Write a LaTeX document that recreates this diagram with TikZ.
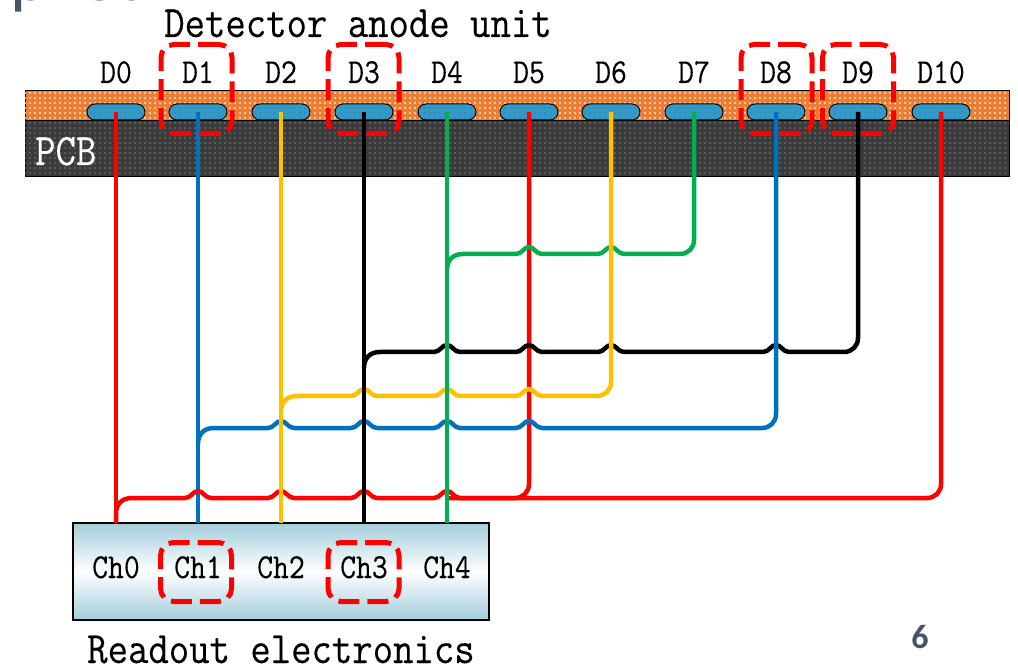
\documentclass[tikz,border=0pt]{standalone}
\usepackage{fontspec}
\newfontfamily\slidefont{Carlito}
\newfontfamily\boardfont[FakeBold=0.25,FakeStretch=0.88]{Latin Modern Mono}
\usetikzlibrary{
	patterns.meta,
	positioning
}
\definecolor{pcbOrange}{HTML}{ED7D31}
\definecolor{pcbDark}{HTML}{3B3B3B}
\definecolor{padBlue}{HTML}{2E9CCB}
\definecolor{wireBlue}{HTML}{0070C0}
\definecolor{wireYellow}{HTML}{FFC000}
\definecolor{wireGreen}{HTML}{00B050}
\definecolor{boxBlue}{HTML}{A3CEDC}
\definecolor{slideGray}{HTML}{44546A}
% hop of a horizontal wire, running leftwards, over the vertical at x=#1
\newcommand\wireHop[2]{-- (#1+13,#2) .. controls (#1+7,#2) and (#1+5,#2-7) .. (#1,#2-7) .. controls (#1-5,#2-7) and (#1-7,#2) .. (#1-13,#2)}
\tikzset{
	Band/.style={rectangle,draw=black,line width=0.8pt,minimum width=984pt,inner sep=0pt,outer sep=0pt},
	Pad/.style={rectangle,rounded corners=8pt,draw=black,line width=1pt,fill=padBlue,minimum width=58pt,minimum height=16pt,inner sep=0pt,outer sep=0pt,
		postaction={pattern={Dots[distance=5pt,radius=0.7pt]},pattern color=red!65!padBlue}},
	PadLabel/.style={font=\boardfont\fontsize{35}{36}\selectfont,inner sep=0pt,anchor=base},
	BigLabel/.style={font=\boardfont\fontsize{45}{46}\selectfont,inner sep=0pt,anchor=base},
	Mark/.style={rectangle,draw=red,line width=5pt,rounded corners=13pt,dash pattern=on 21pt off 8pt,inner sep=0pt},
	Wire/.style={line width=4.5pt,line join=round}
}
\begin{document}
\begin{tikzpicture}[x=1pt,y=-1pt]
	\useasboundingbox (0,0) rectangle (1018,668);
	\clip (0,0) rectangle (1018,668);
	% cut-off slide title and page number
	\node[anchor=base west,inner sep=0pt,text=slideGray,font=\slidefont\fontsize{72}{72}\selectfont] (title) at (10,1) {plied};
	\node[text=slideGray,inner sep=0pt,font=\slidefont\bfseries\fontsize{34}{34}\selectfont] (pagenum) at (920,637) {6};
	% detector board
	\node[Band,fill=pcbOrange,minimum height=30pt,postaction={pattern={Dots[distance=5pt,radius=1.2pt]},pattern color=white!80!pcbOrange}] (anode) at (517,105) {};
	\node[Band,fill=pcbDark,minimum height=56pt,postaction={pattern={Dots[distance=5pt,radius=1.2pt]},pattern color=gray!80!black}] (pcb) at (517,148) {};
	\node[BigLabel,text=white,anchor=base west] at (35,165) (pcblabel) {PCB};
	\node[BigLabel] (detector) at (358,37) {Detector anode unit};
	% anode pads and their labels
	\foreach \n/\x in {0/116,1/198,2/281,3/364,4/447,5/529,6/611,7/694,8/776,9/858,10/941} {
		\node[Pad] (pad\n) at (\x,112) {};
		\node[PadLabel] (label\n) at (\x,83) {D\n};
	}
	% readout box
	\node[rectangle,draw=black,line width=2.5pt,minimum width=416pt,minimum height=97pt,inner sep=0pt,outer sep=0pt,
		top color=boxBlue,bottom color=boxBlue,middle color=white] (readout) at (281,571.5) {};
	\foreach \n/\x in {0/116,1/198,2/281,3/364,4/447} {
		\node[PadLabel] (ch\n) at (\x,578) {Ch\n};
	}
	\node[BigLabel] (electronics) at (281,663) {Readout electronics};
	% wires that run under the others
	\draw[Wire,red] (pad0.center) -- (ch0 |- readout.north);
	\draw[Wire,wireBlue] (pad1.center) -- (ch1 |- readout.north);
	\draw[Wire,red] (pad5.center) -- (529,484) .. controls (529,492) and (523,498) .. (515,498) -- (447,498);
	\draw[Wire,red] (pad10.center) -- (941,484) .. controls (941,492) and (935,498) .. (927,498)
		\wireHop{447}{498} \wireHop{364}{498} \wireHop{281}{498} \wireHop{198}{498}
		-- (132,498) .. controls (122,498) and (116,504) .. (116,514) -- (ch0 |- readout.north);
	\draw[Wire,wireGreen] (pad7.center) -- (694,240) .. controls (694,248) and (688,254) .. (680,254)
		\wireHop{611}{254} \wireHop{529}{254}
		-- (463,254) .. controls (453,254) and (447,260) .. (447,270);
	\draw[Wire,black] (pad9.center) -- (858,338) .. controls (858,346) and (852,352) .. (844,352)
		\wireHop{776}{352} \wireHop{611}{352} \wireHop{529}{352} \wireHop{447}{352}
		-- (380,352) .. controls (370,352) and (364,358) .. (364,368);
	\draw[Wire,wireBlue] (pad8.center) -- (776,414) .. controls (776,422) and (770,428) .. (762,428)
		\wireHop{529}{428} \wireHop{447}{428} \wireHop{364}{428} \wireHop{281}{428}
		-- (214,428) .. controls (204,428) and (198,434) .. (198,444);
	\draw[Wire,wireYellow] (pad6.center) -- (611,382) .. controls (611,390) and (605,396) .. (597,396)
		\wireHop{529}{396} \wireHop{447}{396} \wireHop{364}{396}
		-- (297,396) .. controls (287,396) and (281,402) .. (281,412);
	% wires on top
	\draw[Wire,wireYellow] (pad2.center) -- (ch2 |- readout.north);
	\draw[Wire,black] (pad3.center) -- (ch3 |- readout.north);
	\draw[Wire,wireGreen] (pad4.center) -- (ch4 |- readout.north);
	% selected channels
	\foreach \n/\x in {1/196.5,3/363.5,8/776.5,9/858} {
		\node[Mark,minimum width=71pt,minimum height=89pt] (markD\n) at (\x,89) {};
	}
	\foreach \n/\x in {1/196,3/363.5} {
		\node[Mark,minimum width=71pt,minimum height=59pt] (markCh\n) at (\x,572) {};
	}
\end{tikzpicture}
\end{document}
